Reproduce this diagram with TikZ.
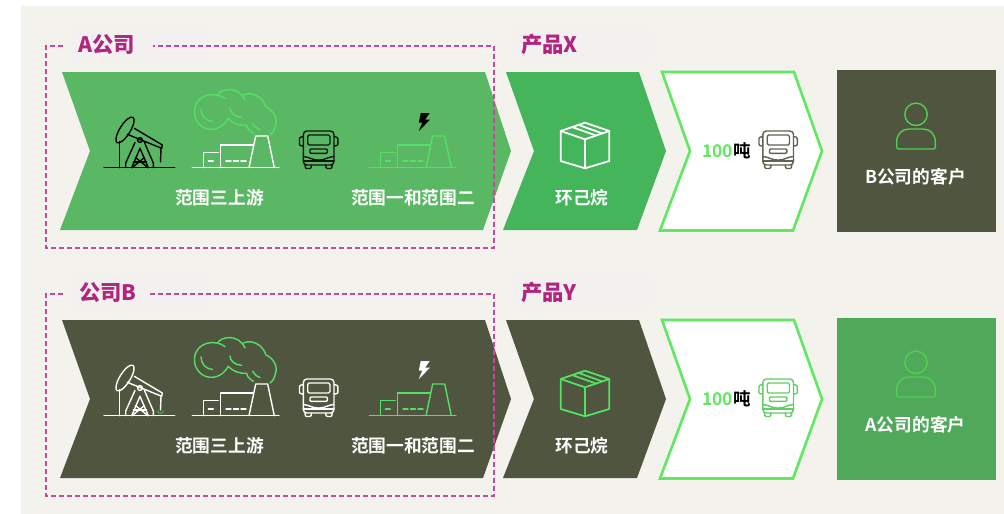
\documentclass[tikz,border=0pt]{standalone}
\usepackage{fontspec}
\setmainfont{Noto Sans CJK SC}[BoldFont={Noto Sans CJK SC Bold}]
\newfontfamily\headfont{Noto Sans CJK SC Black}
\definecolor{bgc}{HTML}{F3F2ED}
\definecolor{boxc}{HTML}{F2F1EF}
\definecolor{magc}{HTML}{B0257F}
\definecolor{dashc}{HTML}{C9479F}
\definecolor{chevA}{HTML}{5AB865}
\definecolor{chevB}{HTML}{45B55B}
\definecolor{darkc}{HTML}{4F553F}
\definecolor{custA}{HTML}{50A85B}
\definecolor{brightc}{HTML}{5FE860}
\definecolor{cloudA}{HTML}{55E065}
\definecolor{personc}{HTML}{52CF52}
\definecolor{busgrey}{HTML}{5F6350}
\definecolor{busgreen}{HTML}{62CC66}
\tikzset{
  icon/.style={line width=1.4pt,line cap=round,line join=round},
  heading/.style={font=\headfont\fontsize{21.3}{24}\selectfont,text=magc,anchor=west,inner sep=0pt},
  whitelabel/.style={font=\bfseries\fontsize{17.7}{20}\selectfont,text=white,inner sep=0pt},
  tonlabel/.style={font=\bfseries\fontsize{17.5}{20}\selectfont,inner sep=0pt,anchor=west},
  dashbox/.style={draw=dashc,line width=1.4pt,dash pattern=on 5pt off 3pt},
  labelbox/.style={fill=boxc,draw=none},
}
% oil pump
\newcommand{\oilpump}[1]{%
 \begin{scope}[icon,draw=#1]
  \draw (104,167.7) -- (174.7,167.7);
  \draw (125,130) ellipse [x radius=15,y radius=5.2,rotate=58];
  \draw (119.3,141.5) -- (119.3,167.7);
  \draw (134.3,128.3) -- (162.3,145) -- (161.7,148.3) -- (127.3,134.3);
  \draw (161,148.3) -- (160.5,162);
  \draw (140,140) circle (2.4);
  \draw (135,142.5) -- (125.7,163) -- (125.7,167.7);
  \draw (144.5,142.5) -- (153.3,163) -- (153.3,167.7);
  \draw (140,148.3) -- (131.7,167.7);
  \draw (140,148.3) -- (148.3,167.7);
  \draw (133.5,162) -- (146.5,162);
  \draw (135.5,157.5) -- (148,167.7);
  \draw (144.5,157.5) -- (132,167.7);
 \end{scope}}
% factory outline
\newcommand{\factory}[1]{%
 \begin{scope}[icon,draw=#1]
  \draw (192.3,167.7) -- (279,167.7);
  \draw (203.3,167.7) -- (203.3,152.3) -- (218.3,152.3);
  \draw (220.7,167.7) -- (220.7,145) -- (252.7,145);
  \draw (249,167.7) -- (255.7,136) -- (267.7,136) -- (274.3,167.7);
  \draw (208.3,161) -- (213.3,161);
  \draw (226,161) -- (231,161) (233.5,161) -- (238.5,161) (241,161) -- (246,161);
 \end{scope}}
% smoke cloud
\newcommand{\smoke}[1]{%
 \begin{scope}[icon,draw=#1]
  \draw (225,98.5) .. controls (215,91) and (196,94) .. (194.5,110)
     .. controls (193.5,122) and (203,130) .. (212,129.3)
     .. controls (220,129) and (225,124) .. (228.3,118.3)
     .. controls (232,123) and (240,126) .. (246.7,125.3)
     .. controls (247,129) and (250,131) .. (253.5,133.5);
  \draw (218,94.5) .. controls (221,89) and (238,85) .. (245,100);
  \draw (243.3,95) .. controls (252,91) and (263,97) .. (266,107)
     .. controls (274,110) and (278,120) .. (275.5,125)
     .. controls (275,129) and (273,133) .. (270,135);
  \draw (201,109) .. controls (201,116) and (206,121) .. (212.5,121.5);
  \draw (230,108) .. controls (230,113) and (235,117) .. (241.7,117.3);
  \draw (252.7,123.3) .. controls (254,126) and (256,128) .. (260,129.5);
 \end{scope}}
% lightning bolt
\newcommand{\bolt}[1]{%
 \fill[#1] (420.7,113) -- (429.7,113) -- (425.2,119.5) -- (430.2,119.5) -- (418.8,131) -- (422.3,122.5) -- (418.8,122.5) -- cycle;}
% bus
\newcommand{\busicon}[3]{%
 \begin{scope}[shift={(#2,#3)},icon,draw=#1]
  \draw[rounded corners=3.5pt] (303.3,165) -- (303.3,131) -- (334,131) -- (334,165) -- cycle;
  \draw[rounded corners=1.5pt] (307.7,135) rectangle (330,145);
  \draw[rounded corners=1pt] (310,149) rectangle (327.3,153.3);
  \draw[rounded corners=1pt] (303.3,136.5) -- (299.5,137.5) -- (299.5,145.5) -- (303.3,146);
  \draw[rounded corners=1pt] (334,136.5) -- (337.8,137.5) -- (337.8,145.5) -- (334,146);
  \draw (303.3,156.5) .. controls (310,157) and (311,160) .. (318.6,160) .. controls (326,160) and (327,157) .. (334,156.5);
  \draw (303.3,161) -- (334,161);
  \draw[rounded corners=1pt] (305,165) -- (305.5,168.5) -- (311,168.5) -- (311.5,165);
  \draw[rounded corners=1pt] (325.7,165) -- (326.2,168.5) -- (331.7,168.5) -- (332.2,165);
 \end{scope}}
% parcel
\newcommand{\parcel}[1]{%
 \begin{scope}[icon,draw=#1,line width=1.8pt]
  \draw (585,122.7) -- (609.3,131) -- (609.3,161) -- (585,168.3) -- (560.7,161) -- (560.7,131) -- cycle;
  \draw (560.7,131) -- (585,139.3) -- (609.3,131);
  \draw (585,139.3) -- (585,168.3);
  \draw (572,127) -- (596,135.5);
  \draw (578,124.7) -- (602,133.3);
 \end{scope}}
% person
\newcommand{\personicon}[1]{%
 \begin{scope}[icon,draw=#1]
  \draw (916,114.3) circle (11.2);
  \draw (899,149) .. controls (897.5,149) and (896.7,148.2) .. (896.7,147) -- (896.7,142)
    .. controls (896.7,134) and (902,129) .. (909,129) -- (923,129)
    .. controls (930,129) and (935.3,134) .. (935.3,142) -- (935.3,147)
    .. controls (935.3,148.2) and (934.5,149) .. (933,149) -- cycle;
 \end{scope}}
\begin{document}
\begin{tikzpicture}[x=1pt,y=-1pt]
\useasboundingbox (0,0) rectangle (1004,514);
\fill[white] (0,0) rectangle (1004,514);
\fill[bgc] (21,6) rectangle (1004,514);

% ---- row 1
\fill[labelbox] (71,27) rectangle (210,60);
\fill[labelbox] (513,27) rectangle (653,60);
\fill[chevA] (62,72) -- (485,72) -- (511,151) -- (483,230) -- (60,230) -- (90,151) -- cycle;
\fill[chevB] (506,72) -- (639,72) -- (666,151) -- (637,230) -- (503,230) -- (534,151) -- cycle;
\draw[brightc,line width=2.6pt,fill=white,miter limit=10] (662,72) -- (794,72) -- (822,151) -- (793,230.5) -- (660,230.5) -- (690,151) -- cycle;
\fill[darkc] (837,70) rectangle (996,232);
\oilpump{black}
\smoke{cloudA}
\factory{white}
\busicon{black!75!darkc}{0}{0}
\begin{scope}[xshift=177pt]\factory{cloudA}\end{scope}
\bolt{black}
\parcel{white}
\busicon{busgrey}{459.5}{0}
\personicon{personc}
\draw[dashbox] (63,46) -- (46,46) -- (46,248) -- (494,248) -- (494,46) -- (153,46);
\node[heading] (compa) at (78,44.5) {A公司};
\node[heading] (prodx) at (521,44.5) {产品X};
\node[whitelabel] (up1) at (219.5,197.5) {范围三上游};
\node[whitelabel] (scope1) at (413,197.5) {范围一和范围二};
\node[whitelabel] (hex1) at (582,197.5) {环己烷};
\node[tonlabel,text=brightc] (num1) at (702,151) {100};
\node[tonlabel,text=black] (ton1) at (num1.east) {吨};
\node[whitelabel] (cust1) at (915.5,176.5) {B公司的客户};

% ---- row 2
\fill[labelbox] (71,275) rectangle (210,308);
\fill[labelbox] (513,275) rectangle (653,308);
\fill[darkc] (62,320) -- (485,320) -- (511,399) -- (483,478) -- (60,478) -- (90,399) -- cycle;
\fill[darkc] (506,320) -- (639,320) -- (666,399) -- (637,478) -- (503,478) -- (534,399) -- cycle;
\draw[brightc,line width=2.6pt,fill=white,miter limit=10] (662,320) -- (794,320) -- (822,399) -- (793,478.5) -- (660,478.5) -- (690,399) -- cycle;
\fill[custA] (837,318) rectangle (996,480);
\begin{scope}[yshift=-248pt]
\oilpump{white}
\draw[icon,draw=cloudA!70!black] (160.5,162) ++(-2.4,3) -- ++(0,-2) arc[start angle=180,end angle=0,radius=2.4] -- ++(0,2);
\smoke{cloudA}
\factory{white}
\busicon{white}{0}{0}
\begin{scope}[xshift=177pt]\factory{cloudA}\end{scope}
\bolt{white}
\parcel{cloudA}
\busicon{busgreen}{459.5}{0}
\personicon{personc}
\end{scope}
\draw[dashbox] (63,294) -- (46,294) -- (46,496) -- (494,496) -- (494,294) -- (150,294);
\node[heading] (compb) at (79,292.5) {公司B};
\node[heading] (prody) at (521,292.5) {产品Y};
\node[whitelabel] (up2) at (219.5,445.5) {范围三上游};
\node[whitelabel] (scope2) at (413,445.5) {范围一和范围二};
\node[whitelabel] (hex2) at (582,445.5) {环己烷};
\node[tonlabel,text=brightc] (num2) at (702,399) {100};
\node[tonlabel,text=black] (ton2) at (num2.east) {吨};
\node[whitelabel] (cust2) at (915.5,424.5) {A公司的客户};
\end{tikzpicture}
\end{document}
